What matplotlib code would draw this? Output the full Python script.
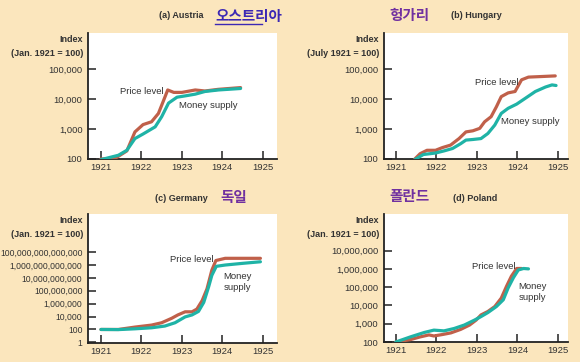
import matplotlib.pyplot as plt
from matplotlib.ticker import FixedLocator, NullLocator

plt.rcParams['font.family'] = ['Liberation Sans', 'DejaVu Sans']
BG = '#fbe6bd'
RED = '#c0604a'
TEAL = '#1fb3a6'
KO = ['Noto Sans CJK KR', 'DejaVu Sans']

years = [1921, 1922, 1923, 1924, 1925]
year_labels = ['1921', '1922', '1923', '1924', '1925']

# (a) Austria
at_price_x = [1921.0, 1921.35, 1921.64, 1921.84, 1922.04, 1922.25, 1922.42, 1922.55, 1922.65,
              1922.8, 1923.0, 1923.33, 1923.57, 1923.9, 1924.45]
at_price_y = [100, 105, 186, 800, 1400, 1740, 3300, 9100, 20000, 16600, 16600, 20000, 18500,
              21000, 24000]
at_money_x = [1921.0, 1921.43, 1921.64, 1921.84, 1922.04, 1922.34, 1922.5, 1922.67, 1922.88,
              1923.08, 1923.33, 1923.57, 1923.9, 1924.45]
at_money_y = [95, 133, 195, 480, 680, 1180, 2560, 7300, 11500, 12700, 14500, 17800, 20000, 22400]

# (b) Hungary
hu_price_x = [1921.47, 1921.6, 1921.77, 1921.98, 1922.15, 1922.35, 1922.56, 1922.73, 1922.9,
              1923.07, 1923.19, 1923.35, 1923.48, 1923.6, 1923.77, 1923.94, 1924.1, 1924.27,
              1924.6, 1924.93]
hu_price_y = [100, 150, 195, 195, 240, 290, 480, 800, 870, 1050, 1740, 2570, 5500, 12000, 16000,
              17800, 43600, 53700, 56200, 58900]
hu_money_x = [1921.47, 1921.68, 1921.98, 1922.19, 1922.4, 1922.6, 1922.73, 1922.9, 1923.1,
              1923.27, 1923.44, 1923.6, 1923.77, 1923.98, 1924.19, 1924.44, 1924.69, 1924.85,
              1924.95]
hu_money_y = [95, 141, 158, 186, 224, 324, 427, 447, 479, 708, 1350, 3310, 4900, 6760, 10500,
              17800, 25100, 29500, 28200]

# (c) Germany
de_price_x = [1921.0, 1921.43, 1921.84, 1922.25, 1922.5, 1922.75, 1922.9, 1923.08, 1923.25,
              1923.37, 1923.5, 1923.62, 1923.74, 1923.84, 1924.07, 1924.94]
de_price_y = [100, 100, 234, 479, 1.1e3, 5.5e3, 1.8e4, 5.5e4, 5.5e4, 1.45e5, 3e6, 2e8, 1.6e11,
              5e12, 1.1e13, 1.1e13]
de_money_x = [1921.0, 1921.43, 1921.84, 1922.25, 1922.58, 1922.83, 1923.08, 1923.25, 1923.41,
              1923.54, 1923.66, 1923.74, 1923.85, 1924.07, 1924.49, 1924.94]
de_money_y = [100, 95, 126, 182, 339, 1.1e3, 8.9e3, 1.8e4, 6.3e4, 1.6e6, 4e8, 2.5e10, 6.3e11,
              1e12, 1.8e12, 3.2e12]

# (d) Poland
pl_price_x = [1921.0, 1921.36, 1921.6, 1921.82, 1921.94, 1922.15, 1922.36, 1922.6, 1922.82,
              1922.98, 1923.1, 1923.27, 1923.44, 1923.6, 1923.73, 1923.85, 1923.98, 1924.1]
pl_price_y = [100, 135, 190, 245, 214, 257, 316, 490, 850, 1580, 3020, 4680, 8700, 25100, 112000,
              398000, 1050000, 1050000]
pl_money_x = [1921.0, 1921.36, 1921.7, 1921.94, 1922.19, 1922.44, 1922.69, 1922.94, 1923.1,
              1923.27, 1923.48, 1923.65, 1923.77, 1923.9, 1924.02, 1924.15, 1924.27]
pl_money_y = [100, 190, 331, 447, 407, 550, 850, 1580, 2450, 4070, 8700, 20400, 91200, 331000,
              871000, 1050000, 1000000]

panels = [
    dict(rect=[0.1517, 0.5608, 0.3259, 0.348], xlim=(1920.68, 1925.35), ylim=(100, 10 ** 6.2),
         yticks=[100, 1e3, 1e4, 1e5], ylabels=['100', '1,000', '10,000', '100,000'], ysize=6.8,
         price=(at_price_x, at_price_y), money=(at_money_x, at_money_y),
         plabel=(1922.0, 10 ** 4.25, 'Price level'), mlabel=(1923.65, 10 ** 3.78, 'Money supply'),
         base='(Jan. 1921 = 100)'),
    dict(rect=[0.662, 0.5608, 0.317, 0.348], xlim=(1920.71, 1925.24), ylim=(100, 10 ** 6.2),
         yticks=[100, 1e3, 1e4, 1e5], ylabels=['100', '1,000', '10,000', '100,000'], ysize=6.8,
         price=(hu_price_x, hu_price_y), money=(hu_money_x, hu_money_y),
         plabel=(1923.48, 10 ** 4.55, 'Price level'), mlabel=(1924.31, 10 ** 3.24, 'Money supply'),
         base='(July 1921 = 100)'),
    dict(rect=[0.1517, 0.0525, 0.3259, 0.356], xlim=(1920.68, 1925.35), ylim=(10 ** -0.1, 10 ** 19.9),
         yticks=[1, 1e2, 1e4, 1e6, 1e8, 1e10, 1e12, 1e14],
         ylabels=['1', '100', '10,000', '1,000,000', '100,000,000', '10,000,000,000',
                  '1,000,000,000,000', '100,000,000,000,000'], ysize=6.2,
         price=(de_price_x, de_price_y), money=(de_money_x, de_money_y),
         plabel=(1923.25, 10 ** 12.8, 'Price level'), mlabel=(1924.37, 10 ** 9.4, 'Money\nsupply'),
         base='(Jan. 1921 = 100)'),
    dict(rect=[0.662, 0.0552, 0.317, 0.3536], xlim=(1920.71, 1925.24), ylim=(100, 10 ** 9),
         yticks=[1e2, 1e3, 1e4, 1e5, 1e6, 1e7],
         ylabels=['100', '1,000', '10,000', '100,000', '1,000,000', '10,000,000'], ysize=6.8,
         price=(pl_price_x, pl_price_y), money=(pl_money_x, pl_money_y),
         plabel=(1923.41, 10 ** 6.11, 'Price level'), mlabel=(1924.36, 10 ** 4.72, 'Money\nsupply'),
         base='(Jan. 1921 = 100)'),
]

fig = plt.figure(figsize=(5.8, 3.62), dpi=100, facecolor=BG)

for p in panels:
    ax = fig.add_axes(p['rect'])
    ax.set_facecolor('white')
    ax.set_yscale('log')
    ax.plot(*p['price'], color=RED, lw=2.3, solid_capstyle='round', zorder=3)
    ax.plot(*p['money'], color=TEAL, lw=2.3, solid_capstyle='round', zorder=4)
    ax.set_xlim(*p['xlim'])
    ax.set_ylim(*p['ylim'])
    ax.xaxis.set_major_locator(FixedLocator(years))
    ax.set_xticklabels(year_labels)
    ax.yaxis.set_major_locator(FixedLocator(p['yticks']))
    ax.set_yticklabels(p['ylabels'])
    ax.yaxis.set_minor_locator(NullLocator())
    for s in ['top', 'right']:
        ax.spines[s].set_visible(False)
    for s in ['left', 'bottom']:
        ax.spines[s].set_linewidth(1.3)
        ax.spines[s].set_color('#222222')
    ax.tick_params(direction='in', length=5.5, width=1.2, color='#333333',
                   labelsize=6.8, labelcolor='#333333', pad=3)
    ax.tick_params(axis='y', pad=4, labelsize=p['ysize'])
    x, y, t = p['plabel']
    ax.text(x, y, t, fontsize=6.8, color='#333333', ha='center', va='center', zorder=5)
    x, y, t = p['mlabel']
    ax.text(x, y, t, fontsize=6.8, color='#333333', ha='center', va='center', zorder=5,
            linespacing=1.3)
    ax.text(-0.025, 0.985, 'Index\n' + p['base'], transform=ax.transAxes, ha='right', va='top',
            fontsize=6.5, fontweight='bold', color='#333333', linespacing=1.75)

# panel titles
fig.text(181 / 580, 1 - 16 / 362, '(a) Austria', ha='center', va='center', fontsize=6.5,
         fontweight='bold', color='#333333')
fig.text(215 / 580, 1 - 16 / 362, '오스트리아', ha='left', va='center', fontsize=10.5,
         color='#3c28b4', family=KO, fontweight='bold')
fig.add_artist(plt.Line2D([215 / 580, 262 / 580], [1 - 24 / 362] * 2, color='#3c28b4', lw=1))
fig.text(409 / 580, 1 - 15 / 362, '헝가리', ha='center', va='center', fontsize=10.5,
         color='#7030a0', family=KO, fontweight='bold')
fig.text(476 / 580, 1 - 16 / 362, '(b) Hungary', ha='center', va='center', fontsize=6.5,
         fontweight='bold', color='#333333')
fig.text(181 / 580, 1 - 198 / 362, '(c) Germany', ha='center', va='center', fontsize=6.5,
         fontweight='bold', color='#333333')
fig.text(234 / 580, 1 - 197 / 362, '독일', ha='center', va='center', fontsize=10.5,
         color='#7030a0', family=KO, fontweight='bold')
fig.text(409 / 580, 1 - 196 / 362, '폴란드', ha='center', va='center', fontsize=10.5,
         color='#7030a0', family=KO, fontweight='bold')
fig.text(475 / 580, 1 - 198 / 362, '(d) Poland', ha='center', va='center', fontsize=6.5,
         fontweight='bold', color='#333333')

fig.savefig('out.png', dpi=100, facecolor=BG)
